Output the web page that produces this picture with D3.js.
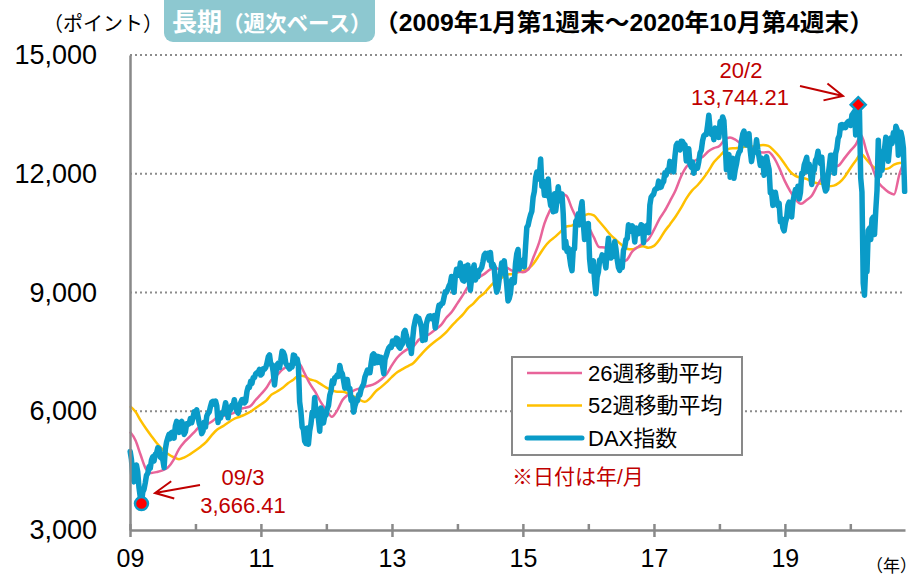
<!DOCTYPE html>
<html>
<head>
<meta charset="utf-8">
<script src="https://cdn.jsdelivr.net/npm/d3@7"></script>
<style>
  body { margin: 0; background: #fff; }
  svg { display: block; }
</style>
</head>
<body>
<div id="chart"></div>
<script>
// DAX weekly closes, one list per year (first entry = first Friday of that year)
const dax2009 = [4984,4783,4404,4216,4338, 4643,4470,4079,3843, 3666,3954,4025,4187, 4384,4430,4600,4557,
  4770,4850,4743,4917,4941, 5077,5053,4839,4812, 4776,4576,5036,5224,5332, 5419,5310,5462,5476,
  5321,5628,5743,5580, 5467,5712,5743,5641,5415, 5480,5685,5663,5685, 5817,5709,5831,5985, 5957];
const dax2010 = [6037,5875,5695,5608, 5434,5501,5722,5598, 5877,5945,5982,6121, 6236,6250,6180,6259,6136,
  5716,5946,5829,5946, 5938,6049,6216,6070, 5834,6066,6040,6152,6148, 6292,6111,6005,5951,
  6135,6215,6292,6299, 6211,6250,6492,6611,6601, 6754,6703,6848,6850, 6947,6973,6988,7057,6914];
const dax2011 = [6947,7075,7063,7102, 7217,7371,7426,7185, 7178,6982,6664,6947, 7176,7217,7100,7284,7514,
  7492,7407,7208,7164, 7109,7069,7165,7120, 7419,7408,7220,7326,7159, 6236,5998,5602,5538,
  5246,5190,5574,5164,5502, 5675,5967,5878,6346, 5964,5985,5800,5493, 6080,5986,5702,5878,5898];
const dax2012 = [6057,6143,6404,6512, 6767,6693,6849,6864, 6921,6880,7157,6996,6947, 6775,6583,6801,6801,
  6561,6579,6271,6339, 5978,6130,6229,6263,6416, 6410,6557,6630,6689, 6865,6945,7040,6971,6970,
  7214,7412,7451,7216, 7398,7233,7380,7232, 7363,7163,6950,7309,7405, 7518,7596,7636,7612];
const dax2013 = [7776,7715,7702,7848, 7833,7635,7593,7661, 7708,7986,8043,7912,7795, 7659,7745,7459,7815,
  8122,8279,8399,8306,8349, 8254,8127,7789,7959, 7806,8212,8332,8404, 8410,8338,8392,8416,8103,
  8276,8510,8675,8661, 8725,8725,8869,9018, 9010,9078,9168,9226,9406, 9172,9006,9400,9589];
const dax2014 = [9435,9473,9743,9392,9306, 9290,9662,9656,9692, 9350,9056,9343,9588, 9695,9315,9409,9402,
  9556,9581,9630,9768,9943, 9987,9913,9987,9815, 10009,9666,9720,9644, 9210,9010,9092,9339,9470,
  9747,9691,9799,9490, 9195,8788,8850,8987,9326, 9291,9252,9732,9980, 10087,9594,9787,9806];
const dax2015 = [9765,9648,10168,10649,10694, 10846,10963,11051,11402, 11551,11901,12040,11869, 11968,12375,11689,11811,
  11454,11709,11447,11865,11414, 11197,11197,11041,11492, 11058,11316,11674,11347,11309, 11490,10985,10124,10298,
  10038,10123,9916,9688, 9553,10096,10104,10795,10850, 10988,10708,11119,11293, 10752,10340,10608,10728, 10743];
const dax2016 = [9849,9545,9765,9798, 9286,8967,9388,9513, 9824,9831,9950,9851, 9794,9622,10051,10373,10039,
  9870,9952,9916,10287, 10103,9834,9631,9557, 9776,9629,10067,10147,10337, 10367,10713,10544,10588,
  10684,10573,10276,10627,10511, 10490,10580,10711,10696, 10259,10668,10664,10700, 10513,11203,11404,11450,11481];
const dax2017 = [11599,11629,11630,11814, 11651,11666,11757,11804, 12027,11963,12095,12064,12313, 12225,12109,12049,12438,
  12717,12770,12638,12602, 12823,12816,12753,12733,12325, 12389,12631,12240,12163, 12297,12014,12165,12168,
  12143,12304,12519,12592,12829, 12956,12992,12991,13218, 13479,13127,12994,13060, 12862,13154,13104,13072,12918];
const dax2018 = [13320,13245,13434,13341, 12785,12107,12452,12483, 11914,12346,12390,11886,12097, 12241,12442,12540,12580,
  12820,13001,13078,12938, 12724,12767,13011,12580,12306, 12497,12541,12561,12860, 12616,12425,12211,12394,12364,
  11960,12124,12431,12247, 12111,11524,11554,11201, 11519,11529,11341,11193,11257, 10788,10865,10634,10558];
const dax2019 = [10768,10887,11205,11282, 11181,10907,11300,11457, 11602,11458,11686,11364,11526, 12010,11999,12222,12315,
  12413,12060,12238,12011,11727, 12045,12096,12340,12399, 12568,12323,12260,12419, 11872,11694,11563,11612,11939,
  12192,12469,12468,12381, 12013,12512,12634,12895, 12961,13229,13242,13164,13236, 13167,13283,13319,13337];
const dax2020 = [13219,13483,13526,13577,12982, 13514,13744,13579,11890, 11541,9232,8929,9632, 9525,10564,10626,10336,
  10861,10904,10465,11074,11587, 12848,11949,12331,12089, 12528,12634,12920,12838,12313, 12674,12901,12765,13033,
  12842,13202,13116,12469, 12689,13051,12909,12646,11556];

const daxYears = [dax2009, dax2010, dax2011, dax2012, dax2013, dax2014, dax2015, dax2016, dax2017, dax2018, dax2019, dax2020];
const firstFriday = ["2009-01-02","2010-01-08","2011-01-07","2012-01-06","2013-01-04","2014-01-03",
  "2015-01-02","2016-01-08","2017-01-06","2018-01-05","2019-01-04","2020-01-03"];

// moving averages read at each month end, starting with end of Dec 2008
const ma26 = [5480,
  5261,4901,4535,4443,4467,4507,4581,4774,5043,5227,5357,5506,
  5642,5666,5735,5838,5876,5915,5955,6043,6085,6122,6277,6429,
  6595,6797,6915,7052,7140,7164,7207,6964,6696,6481,6230,6029,
  5858,6016,6290,6419,6523,6572,6621,6649,6706,6801,6934,7166,
  7364,7484,7578,7638,7814,7887,7959,8067,8174,8368,8516,8726,
  8940,9147,9281,9384,9470,9576,9624,9566,9624,9553,9531,9513,
  9584,9891,10251,10739,11075,11310,11503,11446,11130,10849,10758,10658,
  10391,10152,10139,10088,9918,9776,9818,10029,10140,10247,10342,10580,
  10860,11054,11314,11578,11930,12176,12291,12364,12429,12568,12648,12703,
  12867,12916,12858,12760,12725,12668,12548,12539,12549,12407,12142,11814,
  11551,11353,11242,11332,11452,11704,11930,12017,12159,12222,12401,12577,
  12738,12979,12555,12180,11815,11653,11535,11478,11990,12375];
const ma52 = [6130,
  5985,5769,5557,5369,5185,5039,4921,4838,4789,4835,4912,5007,
  5111,5220,5389,5532,5617,5710,5798,5855,5910,5980,6077,6172,
  6275,6420,6500,6587,6709,6796,6901,6880,6805,6767,6685,6596,
  6532,6490,6493,6450,6377,6300,6239,6332,6498,6610,6729,6869,
  6992,7066,7142,7220,7374,7526,7661,7776,7876,8003,8165,8307,
  8449,8607,8727,8876,8993,9151,9282,9356,9452,9468,9501,9545,
  9604,9728,9937,10146,10303,10412,10543,10668,10690,10794,10916,10984,
  10947,10799,10634,10469,10338,10217,10104,10090,10140,10168,10130,10178,
  10339,10541,10727,10913,11136,11378,11575,11709,11871,12073,12289,12440,
  12579,12640,12643,12664,12687,12686,12707,12727,12703,12583,12434,12241,
  12049,11946,11896,11869,11797,11759,11740,11685,11700,11777,11927,12140,
  12334,12498,12357,12201,12108,12115,12136,12229,12273,12277];

const yTicks = [3000, 6000, 9000, 12000, 15000];
const labelYears = [2009, 2011, 2013, 2015, 2017, 2019];
const seriesNames = ["26週移動平均", "52週移動平均", "DAX指数"];
const seriesColors = ["#e8649a", "#ffc000", "#0a9bc8"];
const lowPoint = {date: "2009-03-06", value: 3666.41, label: "09/3", text: "3,666.41"};
const highPoint = {date: "2020-02-14", value: 13744.21, label: "20/2", text: "13,744.21"};

const parse = d3.timeParse("%Y-%m-%d");
const font = "'Liberation Sans', Arial, 'Noto Sans CJK JP', sans-serif";
const red = "#c00000";

// build series
const dax = [];
daxYears.forEach((vals, k) => {
  const start = parse(firstFriday[k]);
  vals.forEach((v, i) => dax.push({date: d3.timeDay.offset(start, 7 * i), value: v}));
});
const monthStart = new Date(2009, 0, 1);
const ma26pts = ma26.map((v, i) => ({date: d3.timeMonth.offset(monthStart, i), value: v}));
const ma52pts = ma52.map((v, i) => ({date: d3.timeMonth.offset(monthStart, i), value: v}));

const margin = {top: 55, right: 15, bottom: 48, left: 130};
const visWidth = 920 - margin.left - margin.right;
const visHeight = 578 - margin.top - margin.bottom;

const svg = d3.select("#chart").append("svg")
    .attr("width", 920)
    .attr("height", 578)
    .attr("font-family", font);

const g = svg.append("g")
    .attr("transform", `translate(${margin.left}, ${margin.top})`);

const x = d3.scaleTime()
    .domain([new Date(2009, 0, 1), new Date(2020, 10, 1)])
    .range([0, visWidth]);

const y = d3.scaleLinear()
    .domain([3000, 15000])
    .range([visHeight, 0]);

// gridlines
g.append("g")
  .selectAll("line")
  .data(yTicks.slice(1))
  .join("line")
    .attr("x1", 0)
    .attr("x2", visWidth)
    .attr("y1", d => y(d))
    .attr("y2", d => y(d))
    .attr("stroke", "#8c8c8c")
    .attr("stroke-width", 2)
    .attr("stroke-dasharray", "2,3");

// lines
const line = d3.line()
    .x(d => x(d.date))
    .y(d => y(d.value));

g.append("path")
    .datum(ma52pts)
    .attr("fill", "none")
    .attr("stroke", seriesColors[1])
    .attr("stroke-width", 2.5)
    .attr("stroke-linejoin", "round")
    .attr("d", line.curve(d3.curveMonotoneX));

g.append("path")
    .datum(ma26pts)
    .attr("fill", "none")
    .attr("stroke", seriesColors[0])
    .attr("stroke-width", 2.5)
    .attr("stroke-linejoin", "round")
    .attr("d", line.curve(d3.curveMonotoneX));

g.append("path")
    .datum(dax)
    .attr("fill", "none")
    .attr("stroke", seriesColors[2])
    .attr("stroke-width", 5.5)
    .attr("stroke-linejoin", "round")
    .attr("stroke-linecap", "round")
    .attr("d", line.curve(d3.curveLinear));

// axes
const axisColor = "#898989";

g.append("g")
    .attr("transform", `translate(0, ${visHeight})`)
    .call(d3.axisBottom(x).ticks(d3.timeYear.every(1)).tickSize(-6).tickSizeOuter(0).tickFormat(""))
    .call(a => a.selectAll("line, path").attr("stroke", axisColor).attr("stroke-width", 2.5));

g.append("g")
    .attr("transform", `translate(0, ${visHeight})`)
    .call(d3.axisBottom(x)
        .tickValues(labelYears.map(yr => new Date(yr, 0, 1)))
        .tickSize(7)
        .tickSizeOuter(0)
        .tickPadding(12)
        .tickFormat(d3.timeFormat("%y")))
    .call(a => a.select(".domain").remove())
    .call(a => a.selectAll("line").attr("stroke", axisColor).attr("stroke-width", 2.5))
    .call(a => a.selectAll("text")
        .attr("font-family", font)
        .attr("font-size", 25)
        .attr("fill", "#000"));

g.append("g")
    .call(d3.axisLeft(y).tickValues(yTicks).tickSize(0).tickPadding(33).tickFormat(d3.format(",")))
    .call(a => a.select(".domain").attr("stroke", axisColor).attr("stroke-width", 2.5))
    .call(a => a.selectAll("text")
        .attr("font-family", font)
        .attr("font-size", 27)
        .attr("fill", "#000"));

svg.append("text")
    .attr("x", 917)
    .attr("y", 572)
    .attr("text-anchor", "end")
    .attr("font-size", 17)
    .text("（年）");

// header
svg.append("text")
    .attr("x", 43)
    .attr("y", 31)
    .attr("font-size", 20)
    .text("（ポイント）");

svg.append("rect")
    .attr("x", 164)
    .attr("y", -12)
    .attr("width", 211)
    .attr("height", 54)
    .attr("rx", 9)
    .attr("fill", "#8dc8d0");

const boxText = svg.append("text")
    .attr("x", 172)
    .attr("y", 31)
    .attr("fill", "#fff")
    .attr("font-weight", "bold");
boxText.append("tspan").attr("font-size", 25).text("長期");
boxText.append("tspan").attr("font-size", 21.5).text("（週次ベース）");

svg.append("text")
    .attr("x", 374)
    .attr("y", 31)
    .attr("font-size", 24)
    .attr("font-weight", "bold")
    .attr("textLength", 500)
    .attr("lengthAdjust", "spacingAndGlyphs")
    .text("（2009年1月第1週末～2020年10月第4週末）");

// highlighted points
const lp = {x: x(parse(lowPoint.date)), y: y(lowPoint.value)};
const hp = {x: x(parse(highPoint.date)), y: y(highPoint.value)};

g.append("circle")
    .attr("cx", lp.x)
    .attr("cy", lp.y)
    .attr("r", 6.5)
    .attr("fill", "#ff0000")
    .attr("stroke", seriesColors[2])
    .attr("stroke-width", 2.5);

g.append("path")
    .attr("transform", `translate(${hp.x}, ${hp.y})`)
    .attr("d", "M0,-7.5L7.5,0L0,7.5L-7.5,0Z")
    .attr("fill", "#ff0000")
    .attr("stroke", seriesColors[2])
    .attr("stroke-width", 2.5);

// annotations
function arrow(x1, y1, x2, y2) {
  const a = Math.atan2(y2 - y1, x2 - x1);
  const len = 20, spread = 0.45;
  const p1 = [x2 - len * Math.cos(a - spread), y2 - len * Math.sin(a - spread)];
  const p2 = [x2 - len * Math.cos(a + spread), y2 - len * Math.sin(a + spread)];
  svg.append("path")
      .attr("d", `M${x1},${y1}L${x2},${y2}M${p1[0]},${p1[1]}L${x2},${y2}L${p2[0]},${p2[1]}`)
      .attr("fill", "none")
      .attr("stroke", red)
      .attr("stroke-width", 2);
}

arrow(200, 485, 155, 493);
arrow(800, 86, 843, 96);

svg.append("text")
    .attr("x", 243)
    .attr("y", 485)
    .attr("text-anchor", "middle")
    .attr("font-size", 22)
    .attr("fill", red)
    .text(lowPoint.label);
svg.append("text")
    .attr("x", 243)
    .attr("y", 513)
    .attr("text-anchor", "middle")
    .attr("font-size", 22)
    .attr("fill", red)
    .text(lowPoint.text);

svg.append("text")
    .attr("x", 741)
    .attr("y", 78)
    .attr("text-anchor", "middle")
    .attr("font-size", 22)
    .attr("fill", red)
    .text(highPoint.label);
svg.append("text")
    .attr("x", 740)
    .attr("y", 105)
    .attr("text-anchor", "middle")
    .attr("font-size", 22)
    .attr("fill", red)
    .text(highPoint.text);

// legend
const legend = svg.append("g");
legend.append("rect")
    .attr("x", 512)
    .attr("y", 357)
    .attr("width", 230)
    .attr("height", 98)
    .attr("fill", "#fff")
    .attr("stroke", axisColor)
    .attr("stroke-width", 2);

const legendY = d3.scalePoint().domain(seriesNames).range([373, 438]);
const item = legend.selectAll("g.item")
  .data(seriesNames)
  .join("g")
    .attr("class", "item");
item.append("line")
    .attr("x1", 527)
    .attr("x2", 582)
    .attr("y1", d => legendY(d))
    .attr("y2", d => legendY(d))
    .attr("stroke", (d, i) => seriesColors[i])
    .attr("stroke-width", (d, i) => i === 2 ? 5 : 2.5)
    .attr("stroke-linecap", (d, i) => i === 2 ? "round" : "butt");
item.append("text")
    .attr("x", 588)
    .attr("y", d => legendY(d))
    .attr("dy", "0.36em")
    .attr("font-size", 22)
    .text(d => d);

svg.append("text")
    .attr("x", 512)
    .attr("y", 484)
    .attr("font-size", 21)
    .attr("fill", red)
    .text("※日付は年/月");
</script>
</body>
</html>
